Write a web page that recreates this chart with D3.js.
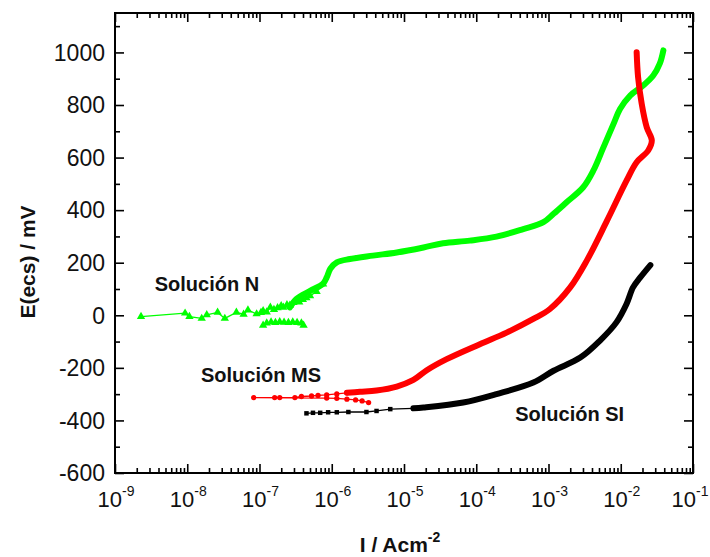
<!DOCTYPE html>
<html><head><meta charset="utf-8">
<script src="https://cdn.jsdelivr.net/npm/d3@7"></script>
<style>
html,body{margin:0;padding:0;background:#fff;}
svg{display:block;font-family:"Liberation Sans",Arial,sans-serif;}
</style></head>
<body>
<svg id="chart" width="710" height="557"></svg>
<script>
// ---- data (log10 of current density in A/cm2, potential in mV) ----
const xDecades = [-9,-8,-7,-6,-5,-4,-3,-2,-1];
const yMajor = [-600,-400,-200,0,200,400,600,800,1000];
const yMinor = [-500,-300,-100,100,300,500,700,900,1100];

// Solución N (green, triangles) - sparse upper branch
const nSparseLogI = [-8.64,-8.03,-7.97,-7.80,-7.73,-7.58,-7.48,-7.32,-7.22,-7.16,-7.04,-6.98,-6.95,-6.90,-6.85,-6.80,-6.75,-6.70,-6.67,-6.62,-6.58,-6.53,-6.49,-6.45,-6.40,-6.35,-6.30,-6.21,-6.12];
const nSparseE = [-5,8,-5,-12,2,11,-12,11,4,20,5,10,17,12,30,22,28,36,30,40,38,48,55,50,60,66,74,90,119];
// Solución N (green) - lower branch
const nLowLogI = [-6.95,-6.90,-6.84,-6.78,-6.72,-6.66,-6.60,-6.54,-6.48,-6.42,-6.39];
const nLowE = [-38,-30,-26,-28,-25,-27,-28,-26,-28,-30,-38];
const nDenseLogI = [-6.58,-6.49,-6.30,-6.12,-6.07,-6.02,-5.93,-5.75,-5.43,-5.10,-4.73,-4.46,-4.09,-3.72,-3.35,-3.07,-2.93,-2.75,-2.52,-2.38,-2.24,-2.10,-2.01,-1.87,-1.69,-1.55,-1.46,-1.41];
const nDenseE = [30,62,93,120,144,177,201,214,227,239,258,274,284,299,328,354,386,430,487,550,639,728,785,836,874,912,957,1008];

// Solución MS (red, circles)
const msSparseLogI = [-5.49,-5.58,-5.67,-5.79,-5.93,-6.07,-7.08,-6.79,-6.72,-6.51,-6.42,-6.28,-6.19,-6.07,-5.93,-5.79];
const msSparseE = [-332,-326,-322,-319,-316,-315,-313,-313,-313,-313,-309,-307,-305,-303,-299,-295];
const msDenseLogI = [-5.79,-5.61,-5.38,-5.10,-4.87,-4.69,-4.41,-3.95,-3.58,-3.21,-2.98,-2.70,-2.47,-2.19,-1.92,-1.78,-1.62,-1.57,-1.64,-1.71,-1.76,-1.78];
const msDenseE = [-295,-291,-286,-271,-246,-210,-167,-110,-66,-14,24,106,208,360,512,582,627,665,715,805,906,1001];

// Solución SI (black, squares)
const siSparseLogI = [-6.35,-6.26,-6.16,-6.05,-5.93,-5.77,-5.52,-5.38,-5.19,-4.87];
const siSparseE = [-373,-371,-371,-369,-369,-368,-368,-364,-357,-354];
const siDenseLogI = [-4.87,-4.73,-4.18,-3.72,-3.21,-2.93,-2.56,-2.29,-2.06,-1.92,-1.83,-1.73,-1.59];
const siDenseE = [-354,-351,-332,-300,-256,-211,-161,-97,-27,43,106,144,191];

const labels = [
  {text:"Solución N", logI:-8.45, E:92},
  {text:"Solución MS", logI:-7.81, E:-254},
  {text:"Solución SI", logI:-3.46, E:-402}
];

// ---- drawing ----
const svg = d3.select("#chart");
const L=115, R=693, T=13, B=473;
const x = d3.scaleLog().domain([1e-9,1e-1]).range([L,R]);
const y = d3.scaleLinear().domain([-600,1150]).range([B,T]);
const P = v => Math.pow(10,v);

const xMajorVals = xDecades.map(P);
const xMinorVals = [];
xDecades.slice(0,-1).forEach(d=>{ for(let k=2;k<=9;k++) xMinorVals.push(k*P(d)); });

const axisStyle = g => { g.selectAll("path,line").attr("stroke","#000").attr("stroke-width",1.6); };

function addAxis(gen, tx, ty, vals, size){
  svg.append("g").attr("transform",`translate(${tx},${ty})`)
    .call(gen.tickValues(vals).tickSizeInner(size).tickSizeOuter(0).tickFormat(""))
    .call(axisStyle).call(g=>g.select(".domain").remove());
}
addAxis(d3.axisBottom(x),0,B,xMajorVals,-9);
addAxis(d3.axisBottom(x),0,B,xMinorVals,-5);
addAxis(d3.axisTop(x),0,T,xMajorVals,-9);
addAxis(d3.axisTop(x),0,T,xMinorVals,-5);
addAxis(d3.axisLeft(y),L,0,yMajor,-9);
addAxis(d3.axisLeft(y),L,0,yMinor,-5);
addAxis(d3.axisRight(y),R,0,yMajor,-9);
addAxis(d3.axisRight(y),R,0,yMinor,-5);
svg.append("rect").attr("x",L).attr("y",T).attr("width",R-L).attr("height",B-T)
  .attr("fill","none").attr("stroke","#000").attr("stroke-width",2);

// y tick labels
svg.append("g").selectAll("text").data(yMajor).join("text")
  .attr("x",105).attr("y",d=>y(d)).attr("dy","0.36em")
  .attr("text-anchor","end").attr("font-size",23).attr("fill","#111")
  .text(d=>d);

// x tick labels
const xl = svg.append("g").selectAll("text").data(xDecades).join("text")
  .attr("x",d=>Math.min(x(P(d))+1, 690)).attr("y",507).attr("text-anchor","middle").attr("fill","#111");
xl.append("tspan").attr("font-size",22).text("10");
xl.append("tspan").attr("font-size",14).attr("dy",-11).text(d=>d);

// axis titles
const xt = svg.append("text").attr("x",400).attr("y",552).attr("text-anchor","middle")
  .attr("font-weight","bold").attr("font-size",21).attr("fill","#111");
xt.append("tspan").text("I / Acm");
xt.append("tspan").attr("font-size",14).attr("dy",-10).text("-2");
svg.append("text").attr("transform","translate(35,262) rotate(-90)").attr("text-anchor","middle")
  .attr("font-weight","bold").attr("font-size",21).attr("fill","#111").text("E(ecs) / mV");

// series
const P2 = d=>[x(P(d[0])), y(d[1])];
const line = d3.line().x(d=>P2(d)[0]).y(d=>P2(d)[1]);
const smooth = d3.line().curve(d3.curveCatmullRom).x(d=>P2(d)[0]).y(d=>P2(d)[1]);
const zip = (a,b)=>a.map((v,i)=>[v,b[i]]);
const series = [
  {thin:[zip(nSparseLogI,nSparseE), zip(nLowLogI,nLowE)], dense:zip(nDenseLogI,nDenseE), color:"#00ff00", sym:d3.symbolTriangle, size:30},
  {thin:[zip(msSparseLogI,msSparseE)], dense:zip(msDenseLogI,msDenseE), color:"#ff0000", sym:d3.symbolCircle, size:22},
  {thin:[zip(siSparseLogI,siSparseE)], dense:zip(siDenseLogI,siDenseE), color:"#000000", sym:d3.symbolSquare, size:20}
];
series.forEach(s=>{
  const g = svg.append("g");
  s.thin.forEach(sp=>{
    g.append("path").attr("d",line(sp)).attr("fill","none").attr("stroke",s.color).attr("stroke-width",1.3);
    g.append("g").selectAll("path").data(sp).join("path")
      .attr("transform",d=>`translate(${P2(d)[0]},${P2(d)[1]})`)
      .attr("d",d3.symbol().type(s.sym).size(s.size)).attr("fill",s.color);
  });
  g.append("path").attr("d",smooth(s.dense))
    .attr("fill","none").attr("stroke",s.color).attr("stroke-width",6)
    .attr("stroke-linecap","round").attr("stroke-linejoin","round");
});

// annotations
svg.append("g").selectAll("text").data(labels).join("text")
  .attr("x",d=>x(P(d.logI))).attr("y",d=>y(d.E))
  .attr("font-weight","bold").attr("font-size",20).attr("fill","#111")
  .text(d=>d.text);
</script>
</body></html>
